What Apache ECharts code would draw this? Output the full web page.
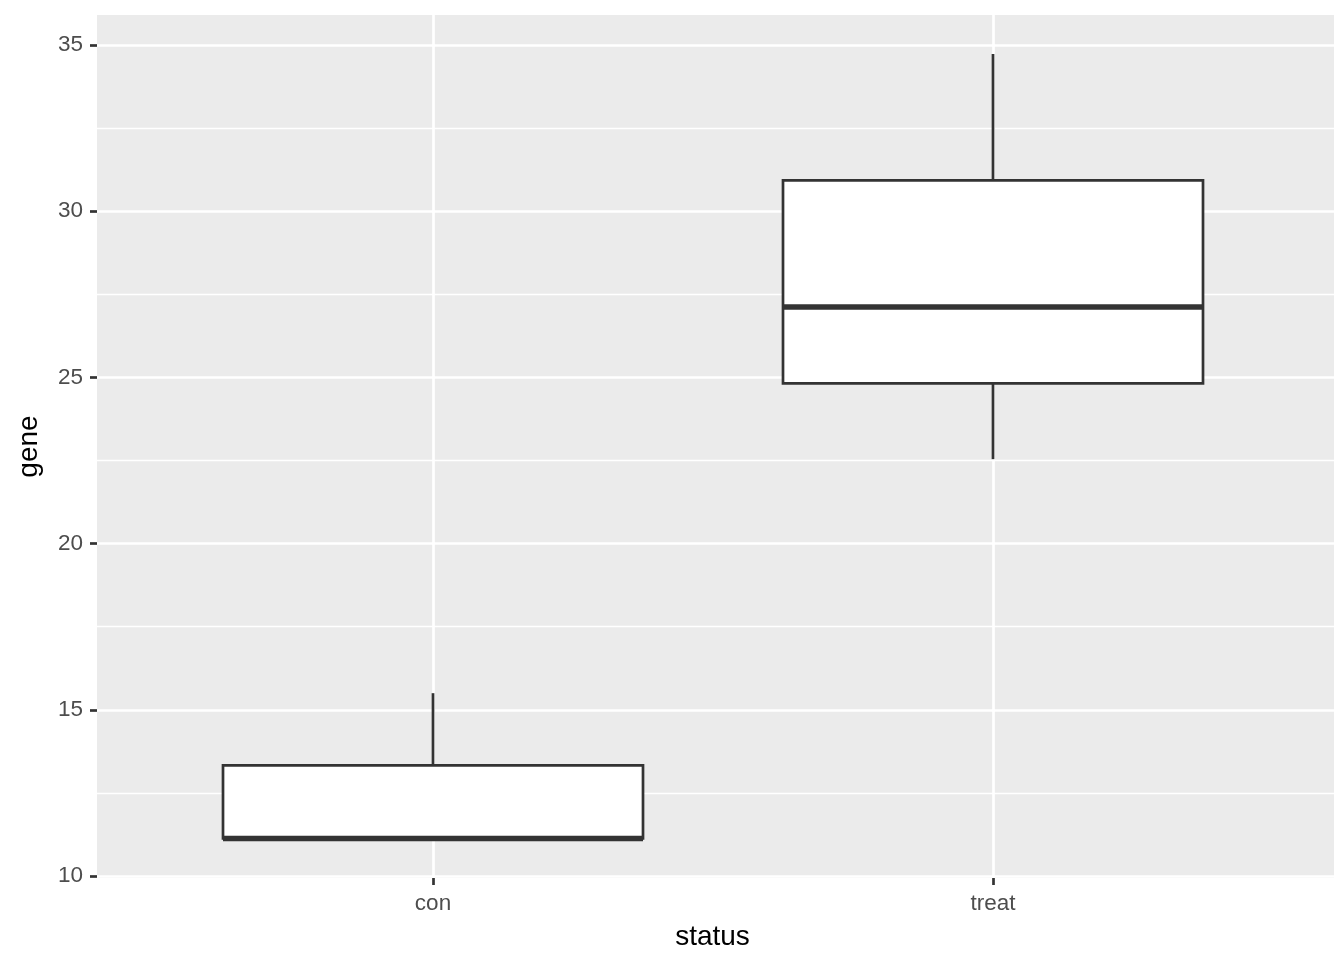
<!DOCTYPE html>
<html><head><meta charset="utf-8">
<script src="https://cdn.jsdelivr.net/npm/echarts@6/dist/echarts.min.js"></script>
<style>html,body{margin:0;padding:0;background:#fff}#c{width:1344px;height:960px}</style>
</head><body><div id="c"></div>
<script>
// ---- data ----
const categories = ['con', 'treat'];
const minValues    = [11.13, 22.54];
const q1Values     = [11.13, 24.82];
const medianValues = [11.13, 27.12];
const q3Values     = [13.33, 30.93];
const maxValues    = [15.50, 34.73];
const yTickMin = 10, yTickMax = 35, yTickStep = 5;
const xTitle = 'status', yTitle = 'gene';

// ---- layout ----
const W = 1344, H = 960;
const panel = { left: 97, right: 1334, top: 15, bottom: 878 };
const yPxAtMin = 876, yPxAtMax = 45;      // pixel rows of 10 and 35
const catPxFirst = 433, catPxLast = 993;  // pixel columns of first / last category
const BOX_FRACTION = 0.75;
const LW = 2.7;
const TICK_LEN = 7;
const LABEL_SIZE = 22.5, TITLE_SIZE = 28;
const FONT = '"Liberation Sans", Arial, Helvetica, sans-serif';

const pxPerUnit = (yPxAtMin - yPxAtMax) / (yTickMax - yTickMin);
const yFullMin = yTickMin - (panel.bottom - yPxAtMin) / pxPerUnit;
const yFullMax = yTickMax + (yPxAtMax - panel.top) / pxPerUnit;

const data = categories.map((c, i) => [i, minValues[i], q1Values[i], medianValues[i], q3Values[i], maxValues[i]]);

function renderItem(params, api) {
  const x = api.value(0);
  const pMin = api.coord([x, api.value(1)]);
  const pQ1 = api.coord([x, api.value(2)]);
  const pMed = api.coord([x, api.value(3)]);
  const pQ3 = api.coord([x, api.value(4)]);
  const pMax = api.coord([x, api.value(5)]);
  const halfW = api.size([1, 0])[0] * BOX_FRACTION / 2;
  const cx = pMed[0];
  const st = { stroke: '#333333', lineWidth: LW, lineCap: 'butt' };
  return {
    type: 'group',
    children: [
      { type: 'line', shape: { x1: cx, y1: pQ3[1], x2: cx, y2: pMax[1] }, style: st },
      { type: 'line', shape: { x1: cx, y1: pQ1[1], x2: cx, y2: pMin[1] }, style: st },
      { type: 'rect', shape: { x: cx - halfW, y: pQ3[1], width: 2 * halfW, height: pQ1[1] - pQ3[1] },
        style: { fill: '#ffffff', stroke: '#333333', lineWidth: LW, lineJoin: 'miter' } },
      { type: 'line', shape: { x1: cx - halfW, y1: pMed[1], x2: cx + halfW, y2: pMed[1] },
        style: { stroke: '#333333', lineWidth: LW * 2, lineCap: 'butt' } }
    ]
  };
}

const chart = echarts.init(document.getElementById('c'), null, { renderer: 'canvas' });
chart.setOption({
  animation: false,
  backgroundColor: '#ffffff',
  textStyle: { fontFamily: FONT },
  grid: [
    { left: panel.left, right: W - panel.right, top: panel.top, bottom: H - panel.bottom,
      show: true, backgroundColor: '#EBEBEB', borderWidth: 0, z: -1 },
    { left: panel.left, right: W - panel.right, top: yPxAtMax, bottom: H - yPxAtMin },
    { left: catPxFirst, right: W - catPxLast, top: panel.top, bottom: H - panel.bottom }
  ],
  xAxis: [
    { gridIndex: 0, type: 'value', min: 0, max: 1,
      axisLine: { show: false }, axisTick: { show: false }, axisLabel: { show: false }, splitLine: { show: false },
      name: xTitle, nameLocation: 'middle', nameGap: 45,
      nameTextStyle: { fontSize: TITLE_SIZE, color: '#000000', fontFamily: FONT, padding: [0, 6, 0, 0] } },
    { gridIndex: 1, type: 'value', show: false, min: 0, max: 1 },
    { gridIndex: 2, type: 'category', data: categories, boundaryGap: false,
      axisLine: { show: false },
      axisTick: { show: true, length: TICK_LEN, lineStyle: { color: '#333333', width: LW } },
      axisLabel: { color: '#4D4D4D', fontSize: LABEL_SIZE, margin: 14, fontFamily: FONT, interval: 0 },
      splitLine: { show: true, interval: 0, lineStyle: { color: '#ffffff', width: LW } } }
  ],
  yAxis: [
    { gridIndex: 0, type: 'value', min: 0, max: 1,
      axisLine: { show: false }, axisTick: { show: false }, axisLabel: { show: false }, splitLine: { show: false },
      name: yTitle, nameLocation: 'middle', nameGap: 54, nameRotate: 90,
      nameTextStyle: { fontSize: TITLE_SIZE, color: '#000000', fontFamily: FONT } },
    { gridIndex: 1, type: 'value', min: yTickMin, max: yTickMax, interval: yTickStep,
      axisLine: { show: false },
      axisTick: { show: true, length: TICK_LEN, lineStyle: { color: '#333333', width: LW } },
      axisLabel: { color: '#4D4D4D', fontSize: LABEL_SIZE, margin: 14, fontFamily: FONT },
      splitLine: { show: true, lineStyle: { color: '#ffffff', width: LW } },
      minorTick: { show: false, splitNumber: 2 },
      minorSplitLine: { show: true, lineStyle: { color: '#ffffff', width: LW / 2 } } },
    { gridIndex: 2, type: 'value', show: false, min: yFullMin, max: yFullMax }
  ],
  series: [{
    type: 'custom', xAxisIndex: 2, yAxisIndex: 2, clip: false,
    data: data, renderItem: renderItem,
    encode: { x: 0, y: [1, 2, 3, 4, 5] }
  }]
});
</script></body></html>
